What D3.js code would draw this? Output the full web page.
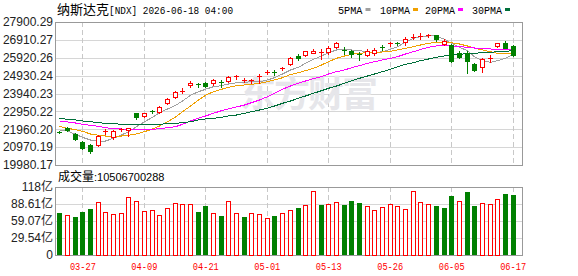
<!DOCTYPE html>
<html>
<head>
<meta charset="utf-8">
<script src="https://cdn.jsdelivr.net/npm/d3@7"></script>
<style>
  body { margin: 0; background: #fff; }
</style>
</head>
<body>
<div id="chart"></div>
<script>
/* *******************************************************
   Data
******************************************************* */
const dates = ["03-24","03-25","03-26","03-27","03-30","03-31","04-01","04-02","04-06","04-07",
  "04-08","04-09","04-10","04-13","04-14","04-15","04-16","04-17","04-20","04-21",
  "04-22","04-23","04-24","04-27","04-28","04-29","04-30","05-01","05-04","05-05",
  "05-06","05-07","05-08","05-11","05-12","05-13","05-14","05-15","05-18","05-19",
  "05-20","05-21","05-22","05-26","05-27","05-28","05-29","06-01","06-02","06-03",
  "06-04","06-05","06-08","06-09","06-10","06-11","06-12","06-15","06-16","06-17"];

const openP  = [21808,22046,21697,21237,21088,21071,21808,21514,21946,21919,
  22844,22677,22954,22916,23397,23730,24023,24394,24466,24538,
  24538,24577,24649,24854,24671,24671,24838,25059,25148,25314,
  25558,26001,26056,26200,26183,26239,26499,26333,26311,26111,
  26089,26167,26499,26698,26735,26776,27070,27053,27150,27164,
  26682,26626,26200,26200,25574,25391,25890,26554,26754,26571];
const highP  = [21863,22085,21769,21293,21143,21642,21991,21919,22029,22029,
  22877,22877,23026,23231,23674,24079,24228,24616,24505,24594,
  24727,24688,24910,24982,24782,24743,25004,25242,25258,25425,
  25945,26128,26311,26388,26422,26571,26793,26499,26350,26222,
  26388,26444,26610,26809,26809,27053,27219,27274,27236,27197,
  26942,26682,26278,26311,25646,25906,26056,26754,26865,26610];
const lowP   = [21725,21863,21365,20883,20661,21032,21697,21437,21880,21586,
  22545,22622,22877,22844,23359,23691,23951,24317,24284,24317,
  24394,24284,24577,24760,24594,24538,24538,25031,24982,25242,
  25519,25796,26017,26167,25834,26128,26460,26128,25978,25796,
  26017,26073,26350,26588,26610,26643,26959,26975,27053,26865,
  26626,25702,25923,25059,25203,25148,25668,26532,26444,26017];
const closeP = [21780,21902,21420,20938,20772,21586,21850,21870,21974,22002,
  22622,22844,22927,23176,23619,24023,24079,24538,24411,24356,
  24688,24505,24854,24882,24699,24705,24882,25131,25114,25353,
  25906,25890,26278,26311,26222,26477,26721,26278,26145,26073,
  26311,26350,26477,26712,26720,26986,27097,27150,27168,26942,
  26865,25757,25978,25757,25242,25834,25923,26721,26477,26073];
const prevClose = 21830; // close of the day before the first bar

// volume, 亿
const volume = [73.5,69.5,66.5,75.2,80.4,92.1,74.7,71.2,73.5,100.8,
  93.8,76.4,78.2,69.5,81.7,90.9,89.1,89.1,75.2,85.7,
  73.5,68.3,93.8,73.5,66.5,73.5,71.8,64.8,68.3,73.5,
  78.2,82.2,87.4,111.2,87.4,88.6,92.1,87.4,94.3,90.9,
  85.1,78.2,83.4,88.6,85.1,79.9,111.2,92.1,88.6,85.7,
  82.2,103.0,93.8,110.0,85.7,90.3,88.6,97.3,106.5,105.06700288];

const ma5  = [21919,21863,21680,21514,21365,21309,21309,21459,21642,21824,
  22101,22378,22622,22877,23082,23276,23525,23840,24040,24173,
  24317,24372,24466,24538,24560,24594,24594,24688,24815,25020,
  25242,25391,25613,25834,26017,26200,26350,26388,26350,26311,
  26255,26200,26255,26388,26532,26793,26998,27086,27125,27125,
  26942,26721,26499,26311,25978,25757,25668,25757,25890,26100];
const ma10 = [22124,22013,21935,21847,21697,21625,21586,21586,21586,21625,
  21697,21824,21974,22140,22378,22639,22932,23248,23580,23840,
  24040,24173,24284,24372,24411,24450,24505,24594,24688,24815,
  24993,25092,25203,25336,25519,25702,25890,26017,26111,26167,
  26200,26200,26239,26278,26350,26444,26532,26626,26721,26776,
  26776,26754,26682,26571,26444,26350,26255,26167,26128,26128];
const ma20 = [22417,22362,22306,22234,22179,22124,22046,21991,21974,21957,
  21935,21935,21957,21991,22046,22101,22234,22417,22567,22694,
  22844,22988,23082,23193,23303,23431,23580,23763,23951,24173,
  24356,24505,24633,24760,24871,25020,25148,25242,25369,25480,
  25613,25702,25796,25890,25978,26128,26255,26377,26499,26571,
  26588,26571,26532,26499,26460,26444,26405,26388,26388,26388];
const ma30 = [22567,22511,22473,22417,22378,22323,22290,22268,22234,22212,
  22196,22196,22196,22234,22268,22290,22323,22378,22473,22528,
  22567,22622,22694,22749,22844,22932,23026,23121,23248,23397,
  23525,23674,23802,23951,24095,24228,24356,24505,24649,24782,
  24910,25020,25148,25281,25425,25558,25646,25757,25851,25945,
  26017,26073,26111,26145,26167,26200,26222,26255,26278,26311];

const tickDates   = ["03-27","04-09","04-21","05-01","05-13","05-26","06-05","06-17"];
const priceTicks  = [19980.17,20970.19,21960.20,22950.22,23940.23,24930.24,25920.26,26910.27,27900.29];
const volTicks    = [0,29.54,59.07,88.61,118.14];
const volTickText = ["0","29.54亿","59.07亿","88.61亿","118亿"];
const maNames  = ["5PMA","10PMA","20PMA","30PMA"];
const maColors = ["#a0a0a0","#f0a000","#ff00ff","#006f3a"];

/* *******************************************************
   Chart setup
******************************************************* */
const width = 578, height = 276;
const plotLeft = 55, plotRight = 522;
const priceTop = 22, priceBottom = 165;
const volTop = 187, volBottom = 255;
const upColor = "#ff0000", downColor = "#008000";
const gridColor = "#d6d6d6", frameColor = "#999";

const svg = d3.select("#chart").append("svg")
    .attr("width", width).attr("height", height)
    .style("font-family", "'Liberation Sans', Arial, sans-serif");

const x = d3.scaleBand().domain(dates).range([56, 517]);
const cx = d => Math.floor(x(d) + x.bandwidth() / 2);

const y = d3.scaleLinear().domain([priceTicks[0], priceTicks[8]]).range([priceBottom, priceTop]);
const yVol = d3.scaleLinear().domain([0, volTicks[4]]).range([volBottom, volTop]);

// grid lines
function hGrid(ticks, scale) {
    svg.append("g").selectAll("line").data(ticks).enter().append("line")
        .attr("x1", plotLeft).attr("x2", plotRight)
        .attr("y1", d => Math.round(scale(d)) + 0.5).attr("y2", d => Math.round(scale(d)) + 0.5)
        .attr("stroke", gridColor);
}
hGrid(priceTicks.slice(1, -1), y);
hGrid(volTicks.slice(1, -1), yVol);

[[priceTop, priceBottom], [volTop, volBottom]].forEach(([t, b]) => {
    svg.append("g").selectAll("line").data(tickDates).enter().append("line")
        .attr("x1", d => cx(d) + 0.5).attr("x2", d => cx(d) + 0.5)
        .attr("y1", t).attr("y2", b)
        .attr("stroke", "#c8c8c8").attr("stroke-dasharray", "5,3");
});

// watermark
svg.append("text")
    .attr("x", 240).attr("y", 107)
    .attr("font-family", "'Noto Sans CJK SC'").attr("font-weight", "bold")
    .attr("font-size", 36).attr("textLength", 138)
    .attr("fill", "#e6e6ea")
    .text("东方财富");

// frames
[[priceTop, priceBottom], [volTop, volBottom]].forEach(([t, b]) => {
    svg.append("rect")
        .attr("x", plotLeft + 0.5).attr("y", t + 0.5)
        .attr("width", plotRight - plotLeft).attr("height", b - t)
        .attr("fill", "none").attr("stroke", frameColor);
});

/* *******************************************************
   Moving averages
******************************************************* */
[ma5, ma10, ma20, ma30].forEach((series, k) => {
    const line = d3.line()
        .x((d, i) => cx(dates[i]) + 0.5)
        .y(d => y(d));
    svg.append("path")
        .datum(series)
        .attr("d", line)
        .attr("fill", "none")
        .attr("stroke", maColors[k])
        .attr("stroke-width", 1)
        .attr("shape-rendering", "crispEdges");
});

/* *******************************************************
   Candles
******************************************************* */
const candles = dates.map((d, i) => ({
    date: d, o: openP[i], h: highP[i], l: lowP[i], c: closeP[i],
    v: volume[i], volUp: closeP[i] >= (i ? closeP[i - 1] : prevClose)
}));

const candleGroup = svg.append("g").attr("shape-rendering", "crispEdges");
candles.forEach(k => {
    const c = cx(k.date);
    const up = k.c >= k.o;
    const col = up ? upColor : downColor;
    candleGroup.append("line")
        .attr("x1", c + 0.5).attr("x2", c + 0.5)
        .attr("y1", Math.round(y(k.h))).attr("y2", Math.round(y(k.l)) + 1)
        .attr("stroke", col);
    const top = Math.round(y(Math.max(k.o, k.c)));
    const bot = Math.round(y(Math.min(k.o, k.c)));
    if (bot - top < 2) {
        candleGroup.append("rect")
            .attr("x", c - 2).attr("y", top)
            .attr("width", 5).attr("height", Math.max(1, bot - top))
            .attr("fill", col);
    } else if (up) {
        candleGroup.append("rect")
            .attr("x", c - 1.5).attr("y", top + 0.5)
            .attr("width", 4).attr("height", bot - top)
            .attr("fill", "#fff").attr("stroke", col);
    } else {
        candleGroup.append("rect")
            .attr("x", c - 2).attr("y", top)
            .attr("width", 5).attr("height", bot - top + 1)
            .attr("fill", col);
    }
});

/* *******************************************************
   Volume bars
******************************************************* */
const volGroup = svg.append("g").attr("shape-rendering", "crispEdges");
candles.forEach(k => {
    const c = cx(k.date);
    const top = Math.round(yVol(k.v));
    if (k.volUp) {
        volGroup.append("rect")
            .attr("x", c - 1.5).attr("y", top + 0.5)
            .attr("width", 4).attr("height", volBottom - top - 0.5)
            .attr("fill", "#fff").attr("stroke", upColor);
    } else {
        volGroup.append("rect")
            .attr("x", c - 2).attr("y", top)
            .attr("width", 5).attr("height", volBottom - top)
            .attr("fill", downColor);
    }
});

/* *******************************************************
   Axes
******************************************************* */
const yAxis = d3.axisLeft(y).tickValues(priceTicks).tickSize(0).tickPadding(2)
    .tickFormat(d3.format(".2f"));
const yAxisG = svg.append("g").attr("transform", `translate(${plotLeft},0)`).call(yAxis);

const volAxis = d3.axisLeft(yVol).tickValues(volTicks).tickSize(0).tickPadding(2)
    .tickFormat((d, i) => volTickText[i]);
const volAxisG = svg.append("g").attr("transform", `translate(${plotLeft},0)`).call(volAxis);

[yAxisG, volAxisG].forEach(g => {
    g.select(".domain").remove();
    g.selectAll("text")
        .attr("font-family", "'Liberation Sans', 'Noto Sans CJK SC', sans-serif")
        .attr("font-size", 12).attr("fill", "#222");
});

const xAxis = d3.axisBottom(x).tickValues(tickDates).tickSize(0).tickPadding(7);
const xAxisG = svg.append("g").attr("transform", `translate(0,${volBottom})`).call(xAxis);
xAxisG.select(".domain").remove();
xAxisG.selectAll("text")
    .attr("font-family", "'Liberation Mono', monospace")
    .attr("font-size", 11).attr("fill", "#ff0000")
    .attr("textLength", 26).attr("lengthAdjust", "spacingAndGlyphs");

/* *******************************************************
   Title, legend, volume caption
******************************************************* */
const title = svg.append("text").attr("x", 57).attr("y", 14).attr("fill", "#000");
title.append("tspan").attr("font-family", "'Noto Sans CJK SC'").attr("font-size", 13).text("纳斯达克");
title.append("tspan").attr("font-family", "'Liberation Mono', monospace").attr("font-size", 10.5)
    .attr("textLength", 124).attr("lengthAdjust", "spacingAndGlyphs")
    .text("[NDX] 2026-06-18 04:00");

const legendX = [338, 380, 425, 472];
const legendW = [24.5, 30, 30, 30];
maNames.forEach((name, k) => {
    svg.append("text")
        .attr("x", legendX[k]).attr("y", 14)
        .attr("font-family", "'Liberation Mono', monospace").attr("font-size", 11)
        .attr("textLength", legendW[k]).attr("lengthAdjust", "spacingAndGlyphs")
        .attr("fill", "#000")
        .text(name);
    svg.append("rect")
        .attr("x", legendX[k] + legendW[k] + 3).attr("y", 8)
        .attr("width", 5).attr("height", 3)
        .attr("fill", maColors[k]);
});

const volCap = svg.append("text").attr("x", 58).attr("y", 181).attr("fill", "#000");
volCap.append("tspan").attr("font-family", "'Noto Sans CJK SC'").attr("font-size", 12).text("成交量");
volCap.append("tspan").attr("font-family", "'Liberation Sans', sans-serif").attr("font-size", 11)
    .text(":" + Math.round(volume[volume.length - 1] * 1e8));
</script>
</body>
</html>
